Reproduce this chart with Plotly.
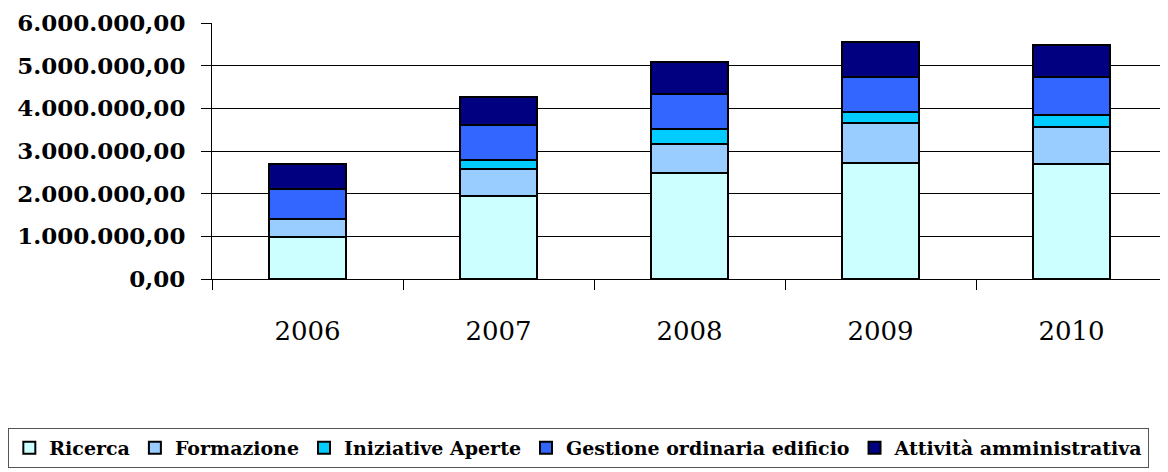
import plotly.graph_objects as go

years = ["2006", "2007", "2008", "2009", "2010"]

# values per category (euro)
ricerca = [980000, 1950000, 2490000, 2730000, 2690000]
formazione = [430000, 630000, 670000, 930000, 870000]
iniziative_aperte = [0, 210000, 360000, 250000, 290000]
gestione_edificio = [690000, 820000, 820000, 820000, 890000]
attivita_amministrativa = [600000, 660000, 750000, 830000, 740000]

series = [
    ("Ricerca", ricerca, "#CCFFFF"),
    ("Formazione", formazione, "#99CCFF"),
    ("Iniziative Aperte", iniziative_aperte, "#00CCFF"),
    ("Gestione ordinaria edificio", gestione_edificio, "#3366FF"),
    ("Attività amministrativa", attivita_amministrativa, "#000080"),
]

fig = go.Figure()
for name, vals, color in series:
    fig.add_trace(go.Bar(
        x=years, y=vals, name=name,
        marker=dict(color=color, line=dict(color="black", width=2)),
    ))

serif = "DejaVu Serif"

# page body adds an 8px margin, so the figure is 8px smaller each way
fig.update_layout(
    barmode="stack",
    bargap=0.6,
    width=1160, height=464,
    margin=dict(l=203, r=1, t=15, b=193),
    paper_bgcolor="white",
    plot_bgcolor="white",
    separators=",.",
    font=dict(family=serif, color="black"),
    showlegend=True,
    legend=dict(
        orientation="h",
        x=-0.212, xanchor="left",
        y=-0.582, yanchor="top",
        bordercolor="#555555", borderwidth=1,
        font=dict(family=serif, size=19, weight="bold"),
        traceorder="normal",
        itemwidth=30,
    ),
)

fig.update_yaxes(
    range=[0, 6000000],
    tickvals=[0, 1000000, 2000000, 3000000, 4000000, 5000000, 6000000],
    tickformat=",.2f",
    automargin=False,
    showgrid=True, gridcolor="black", gridwidth=1,
    showline=True, linecolor="black", linewidth=1,
    ticks="outside", ticklen=10, tickcolor="black",
    ticklabelstandoff=11,
    tickfont=dict(family=serif, size=23, weight="bold"),
    zeroline=False,
)

fig.update_xaxes(
    automargin=False,
    showline=True, linecolor="black", linewidth=1,
    ticks="outside", ticklen=10, tickcolor="black",
    tickson="boundaries",
    ticklabelstandoff=29,
    tickfont=dict(family=serif, size=26),
)

fig.write_html("out.html")
